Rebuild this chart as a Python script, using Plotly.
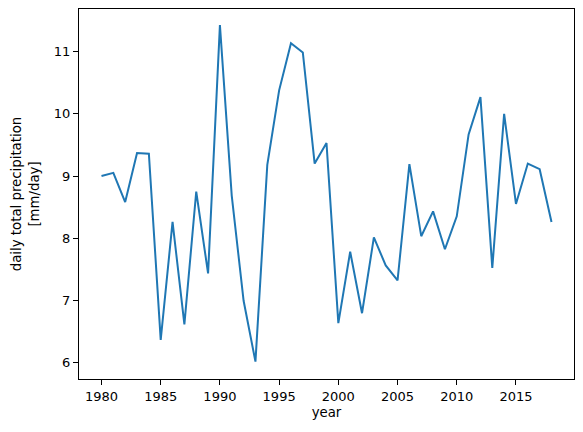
import plotly.graph_objects as go

years = list(range(1980, 2019))
precip = [
    9.00, 9.05, 8.58, 9.37, 9.36, 6.36, 8.26, 6.61, 8.75, 7.43,
    11.43, 8.68, 6.99, 6.01, 9.18, 10.38, 11.14, 10.99, 9.20, 9.53,
    6.63, 7.78, 6.79, 8.01, 7.56, 7.32, 9.19, 8.03, 8.43, 7.82,
    8.35, 9.67, 10.27, 7.52, 10.00, 8.55, 9.20, 9.11, 8.26,
]

fig = go.Figure(go.Scatter(
    x=years, y=precip, mode='lines',
    line=dict(color='#1f77b4', width=2),
))

axis_style = dict(
    showline=True, linecolor='black', linewidth=1, mirror=True,
    ticks='outside', ticklen=5, tickcolor='black', tickwidth=1,
    showgrid=False, zeroline=False,
    tickfont=dict(family='DejaVu Sans', size=13, color='black'),
    title_font=dict(family='DejaVu Sans', size=13.3, color='black'),
)

fig.update_layout(
    width=583, height=432,
    margin=dict(l=79, r=9, t=9, b=53),
    paper_bgcolor='white', plot_bgcolor='white',
    showlegend=False,
)
fig.update_xaxes(axis_style, range=[1978.1, 2019.9], tickvals=[1980, 1985, 1990, 1995, 2000, 2005, 2010, 2015],
                 title_text='year', title_standoff=5)
fig.update_yaxes(axis_style, range=[5.73, 11.69], tickvals=[6, 7, 8, 9, 10, 11],
                 title_text='daily total precipitation<br>[mm/day]', title_standoff=11)

# drop the default page margin so the figure sits at the window corner
fig.write_html("out.html", config={'displayModeBar': False},
               post_script="document.body.style.margin='0';")
